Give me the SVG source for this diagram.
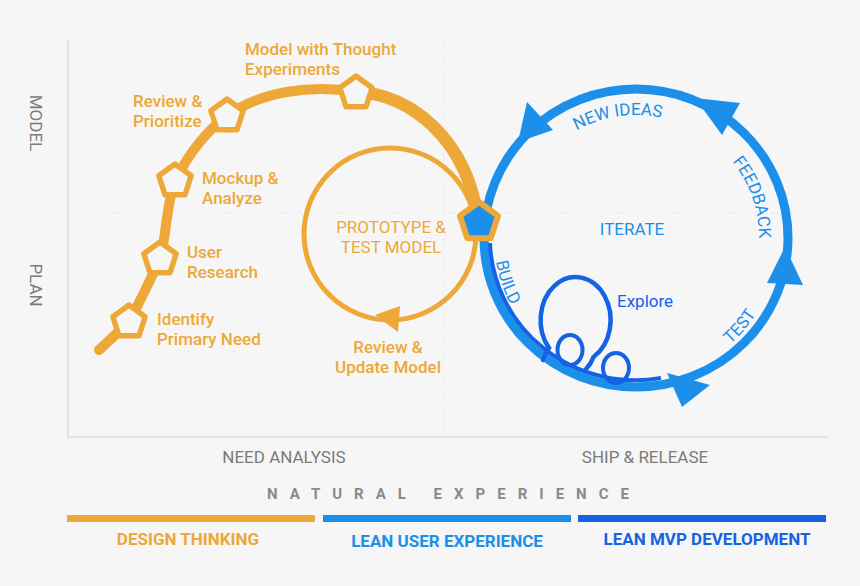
<svg xmlns="http://www.w3.org/2000/svg" width="860" height="586" viewBox="0 0 860 586">
<style>
.t{font-family:Roboto,'Liberation Sans',sans-serif;font-size:17px}
.o{fill:#eea838;font-weight:500}
.or{fill:#eea838;font-weight:400}
.b{fill:#1b8fe9}
.db{fill:#1463e5}
.g{fill:#7b7b7b}
.bold{font-weight:700}
.pent{fill:#f6f6f6;stroke:#eea838;stroke-width:5.5;stroke-linejoin:round}
.arrowb{fill:#1b8fe9}
.grid{stroke:#ececec;stroke-width:1;stroke-dasharray:8 6;fill:none}
.axis{stroke:#dcdcdc;stroke-width:1.5;fill:none}
</style>
<defs>
<path id="pentS" d="M0,-17 L16.17,-5.25 L10,13.75 L-10,13.75 L-16.17,-5.25Z"/>
<path id="pentL" d="M0,-20 L19.02,-6.18 L11.76,16.18 L-11.76,16.18 L-19.02,-6.18Z"/>
<path id="cw" d="M513,238 A123,123 0 0 1 759,238 A123,123 0 0 1 636,361"/>
<path id="ccw" d="M494,238 A142,142 0 0 0 636,380 A142,142 0 0 0 778,238"/>
</defs>
<rect width="860" height="586" fill="#f6f6f6"/>

<g id="axes">
<line class="grid" x1="70" y1="213" x2="826" y2="213"/>
<line class="grid" x1="444" y1="42" x2="444" y2="435"/>
<polyline class="axis" points="68,40 68,437 828,437"/>
<text class="t g" transform="translate(30,123) rotate(90)" text-anchor="middle">MODEL</text>
<text class="t g" transform="translate(30,285) rotate(90)" text-anchor="middle">PLAN</text>
<text class="t g" x="284" y="463" text-anchor="middle">NEED ANALYSIS</text>
<text class="t g" x="645" y="463" text-anchor="middle">SHIP &amp; RELEASE</text>
</g>

<g id="connectors">
<!-- design thinking path -->
<path d="M99,350 L129,322 C138,305 148,285 160,259 C166,240 166,205 175,181 C188,155 205,132 227,116 C260,92 310,84 356,92" fill="none" stroke="#eea838" stroke-width="10" stroke-linecap="round" stroke-linejoin="round"/>
<path d="M356,92 C410,93 468,140 478,221" fill="none" stroke="#eea838" stroke-width="12.5"/>
<!-- prototype loop -->
<circle cx="390" cy="234" r="86" fill="none" stroke="#eea838" stroke-width="5"/>
<polygon points="375,315 400,306 398,332" fill="#eea838"/>
<!-- iterate ring -->
<ellipse cx="636" cy="238" rx="152" ry="149" fill="none" stroke="#1b8fe9" stroke-width="9"/>
<path d="M490,243 A145.5,142.5 0 0 0 661,378" fill="none" stroke="#1463e5" stroke-width="4"/>
<polygon class="arrowb" points="527,102 553,130 518,142"/>
<polygon class="arrowb" points="695,98 740,103 722,135"/>
<polygon class="arrowb" points="785,247 767,283 803,285"/>
<polygon class="arrowb" points="667,373 682,407 710,385"/>
<!-- explore loops -->
<path d="M543,360 Q545,354 549,348 A35,43 0 1 1 593.5,357 Q591,364 586,369" fill="none" stroke="#1463e5" stroke-width="4.5" stroke-linecap="round"/>
<ellipse cx="570" cy="350" rx="12.5" ry="15" fill="none" stroke="#1463e5" stroke-width="4"/>
<ellipse cx="616" cy="368" rx="13" ry="15" fill="none" stroke="#1463e5" stroke-width="4"/>
</g>

<g id="n-identify">
<use href="#pentS" class="pent" x="129" y="322"/>
<text class="t o" x="157" y="325">Identify</text>
<text class="t o" x="157" y="345">Primary Need</text>
</g>
<g id="n-user">
<use href="#pentS" class="pent" x="160" y="259"/>
<text class="t o" x="187" y="258">User</text>
<text class="t o" x="187" y="278">Research</text>
</g>
<g id="n-mockup">
<use href="#pentS" class="pent" x="175" y="181"/>
<text class="t o" x="202" y="184">Mockup &amp;</text>
<text class="t o" x="202" y="204">Analyze</text>
</g>
<g id="n-review">
<use href="#pentS" class="pent" x="227" y="116"/>
<text class="t o" x="133" y="107">Review &amp;</text>
<text class="t o" x="133" y="127">Prioritize</text>
</g>
<g id="n-model">
<use href="#pentS" class="pent" x="356" y="93"/>
<text class="t o" x="245" y="55">Model with Thought</text>
<text class="t o" x="245" y="75">Experiments</text>
</g>
<g id="n-junction">
<use href="#pentL" x="479" y="222" fill="#1b8fe9" stroke="#eea838" stroke-width="6" stroke-linejoin="round"/>
</g>
<g id="n-prototype">
<text class="t or" x="391" y="233" text-anchor="middle">PROTOTYPE &amp;</text>
<text class="t or" x="391" y="253" text-anchor="middle">TEST MODEL</text>
</g>
<g id="n-update">
<text class="t o" x="388" y="353" text-anchor="middle">Review &amp;</text>
<text class="t o" x="388" y="373" text-anchor="middle">Update Model</text>
</g>
<g id="n-iterate">
<text class="t b" x="632" y="235" text-anchor="middle">ITERATE</text>
<text class="t b"><textPath href="#cw" startOffset="175" text-anchor="middle">NEW IDEAS</textPath></text>
<text class="t b"><textPath href="#cw" startOffset="345" text-anchor="middle">FEEDBACK</textPath></text>
<text class="t b"><textPath href="#ccw" startOffset="47" text-anchor="middle">BUILD</textPath></text>
<text class="t b"><textPath href="#ccw" startOffset="346" text-anchor="middle">TEST</textPath></text>
</g>
<g id="n-explore">
<text class="t db" x="617" y="307">Explore</text>
</g>

<g id="legend">
<text class="t bold" x="267" y="499" fill="#8a8a8a" style="font-size:15px;letter-spacing:12px">NATURAL EXPERIENCE</text>
<rect x="67" y="515" width="248" height="7" fill="#eea838"/>
<rect x="323" y="515" width="248" height="7" fill="#1b8fe9"/>
<rect x="578" y="515" width="248" height="7" fill="#1463e5"/>
<text class="t bold" x="188" y="545" text-anchor="middle" fill="#eea838">DESIGN THINKING</text>
<text class="t bold" x="447" y="547" text-anchor="middle" fill="#1b8fe9">LEAN USER EXPERIENCE</text>
<text class="t bold" x="707" y="545" text-anchor="middle" fill="#1463e5">LEAN MVP DEVELOPMENT</text>
</g>
</svg>
